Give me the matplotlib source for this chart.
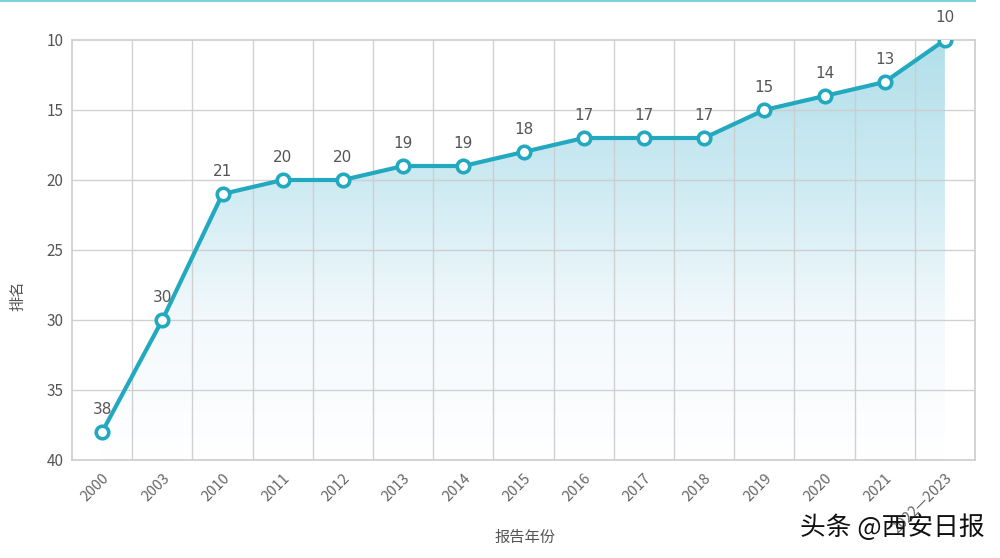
import numpy as np
import matplotlib
matplotlib.use("Agg")
import matplotlib.pyplot as plt
from matplotlib.patches import Polygon
from matplotlib.colors import LinearSegmentedColormap

plt.rcParams['font.family'] = ['Noto Sans CJK SC', 'DejaVu Sans']

years = ["2000", "2003", "2010", "2011", "2012", "2013", "2014", "2015",
         "2016", "2017", "2018", "2019", "2020", "2021", "2022—2023"]
ranks = [38, 30, 21, 20, 20, 19, 19, 18, 17, 17, 17, 15, 14, 13, 10]
y_ticks = [10, 15, 20, 25, 30, 35, 40]

line_color = "#22a9bf"
grid_color = "#cccccc"

fig = plt.figure(figsize=(10, 5.58), dpi=100)
ax = fig.add_axes([0.072, 1 - 460/558, 0.903, 420/558])

x = np.arange(len(years))
ax.set_xlim(-0.5, len(years) - 0.5)
ax.set_ylim(40, 10)

# gradient fill under line
verts = [(x[0], 40)] + list(zip(x, ranks)) + [(x[-1], 40)]
poly = Polygon(verts, closed=True, facecolor='none', edgecolor='none')
ax.add_patch(poly)
cmap = LinearSegmentedColormap.from_list("g", ["#ffffff", "#f3f9fc", "#cdeaf2", "#b2dfea"])
grad = np.linspace(0, 1, 256).reshape(-1, 1)
im = ax.imshow(grad, extent=[x[0], x[-1], 40, 10], origin='lower', aspect='auto',
               cmap=cmap, zorder=1)
im.set_clip_path(poly)

# grid
for b in np.arange(0.5, len(years) - 1, 1.0):
    ax.axvline(b, color=grid_color, lw=1, zorder=2, alpha=0.9)
for t in y_ticks[1:-1]:
    ax.axhline(t, color=grid_color, lw=1, zorder=2, alpha=0.9)

ax.plot(x, ranks, color=line_color, lw=3, zorder=3)
ax.plot(x, ranks, 'o', ms=9, mfc='white', mec=line_color, mew=2.6, zorder=4)

for xi, r in zip(x, ranks):
    ax.annotate(str(r), (xi, r), xytext=(0, 11), textcoords='offset points',
                ha='center', va='bottom', fontsize=11, color='#555555',
                family=['DejaVu Sans'])

for s in ax.spines.values():
    s.set_color(grid_color)
    s.set_linewidth(1.2)

ax.set_xticks(x)
ax.set_xticklabels(years, rotation=45, ha='right', rotation_mode='anchor',
                   fontsize=10.5, color='#666666')
ax.set_yticks(y_ticks)
ax.set_yticklabels([str(t) for t in y_ticks], fontsize=11, color='#555555')
ax.tick_params(length=0, pad=6)
ax.tick_params(axis='x', pad=8)

fig.text(0.018, 262/558, "排名", rotation=90, ha='center', va='center',
         fontsize=11, color='#555555')
fig.text(0.525, 1 - 537/558, "报告年份", ha='center', va='center',
         fontsize=11, color='#555555')
fig.text(0.985, 1 - 528/558, "头条 @西安日报", ha='right', va='center',
         fontsize=18.5, color='#111111')

# top cyan line
fig.add_artist(plt.Line2D([0, 0.975], [0.999, 0.999], color='#7fd3dc',
                          lw=1.5, transform=fig.transFigure))

fig.savefig("out.png", dpi=100)
